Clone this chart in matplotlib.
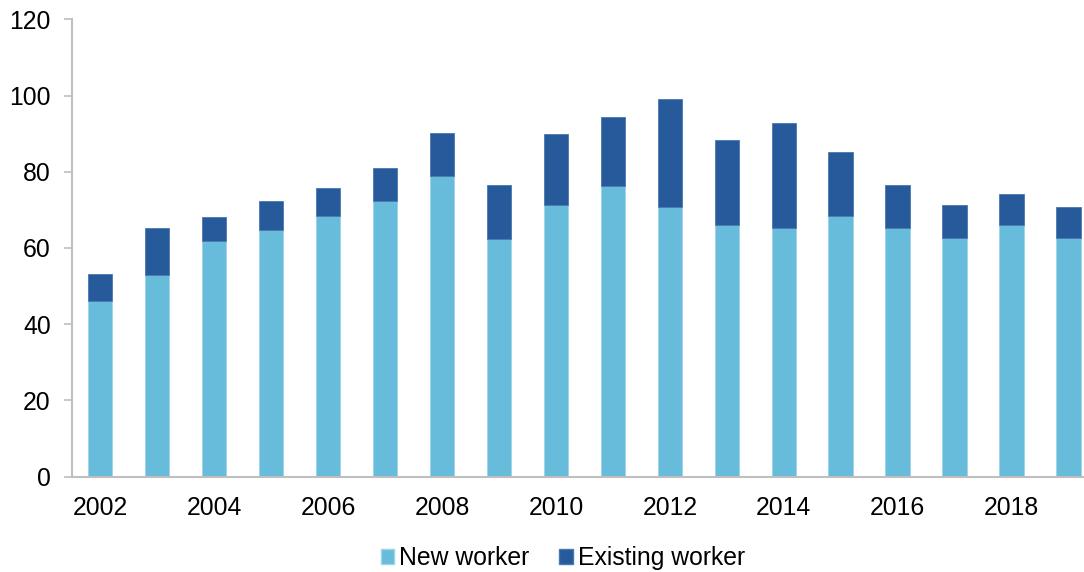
import numpy as np
import matplotlib.pyplot as plt
from matplotlib.patches import Patch

years = list(range(2002, 2020))
new_worker = [46.0, 52.8, 61.8, 64.7, 68.5, 72.3, 78.8, 62.4, 71.4, 76.3,
              70.7, 66.0, 65.2, 68.4, 65.2, 62.5, 66.0, 62.5]
total = [53.1, 65.3, 68.1, 72.3, 75.7, 80.9, 90.1, 76.4, 89.8, 94.3,
         99.2, 88.2, 92.7, 85.3, 76.4, 71.2, 74.2, 70.7]
existing_worker = [t - n for t, n in zip(total, new_worker)]

light = "#67bbdb"
dark = "#275a9a"
axis_grey = "#bfbfbf"
fs = 17.8

plt.rcParams["font.family"] = ["Liberation Sans", "DejaVu Sans"]

fig = plt.figure(figsize=(10.84, 5.72), dpi=100)
ax = fig.add_axes([0.0661, 0.1666, 0.9339, 0.7997])

x = np.arange(len(years))
w = 0.43
ax.bar(x, new_worker, w, color=light, edgecolor="#9fd3e8", linewidth=0.6)
ax.bar(x, existing_worker, w, bottom=new_worker, color=dark,
       edgecolor="#4a78b0", linewidth=0.6)

ax.set_xlim(-0.5, 17.27)
ax.set_ylim(0, 120)
ax.set_yticks(range(0, 121, 20))
ax.set_xticks(x[::2])
ax.set_xticklabels([str(y) for y in years[::2]])

for s in ["top", "right"]:
    ax.spines[s].set_visible(False)
for s in ["left", "bottom"]:
    ax.spines[s].set_color(axis_grey)
    ax.spines[s].set_linewidth(1.5)

ax.tick_params(axis="y", length=6, width=1.2, color=axis_grey, pad=9,
               labelsize=fs, labelcolor="black")
ax.tick_params(axis="x", length=0, pad=14, labelsize=fs, labelcolor="black")

handles = [Patch(facecolor=light, edgecolor="#9fd3e8", label="New worker"),
           Patch(facecolor=dark, edgecolor="#4a78b0", label="Existing worker")]
fig.legend(handles=handles, loc="center", bbox_to_anchor=(0.519, 0.0245),
           ncol=2, frameon=False, fontsize=fs, handlelength=0.55,
           handleheight=0.55, handletextpad=0.2, columnspacing=1.2)

fig.savefig("out.png", dpi=100)
